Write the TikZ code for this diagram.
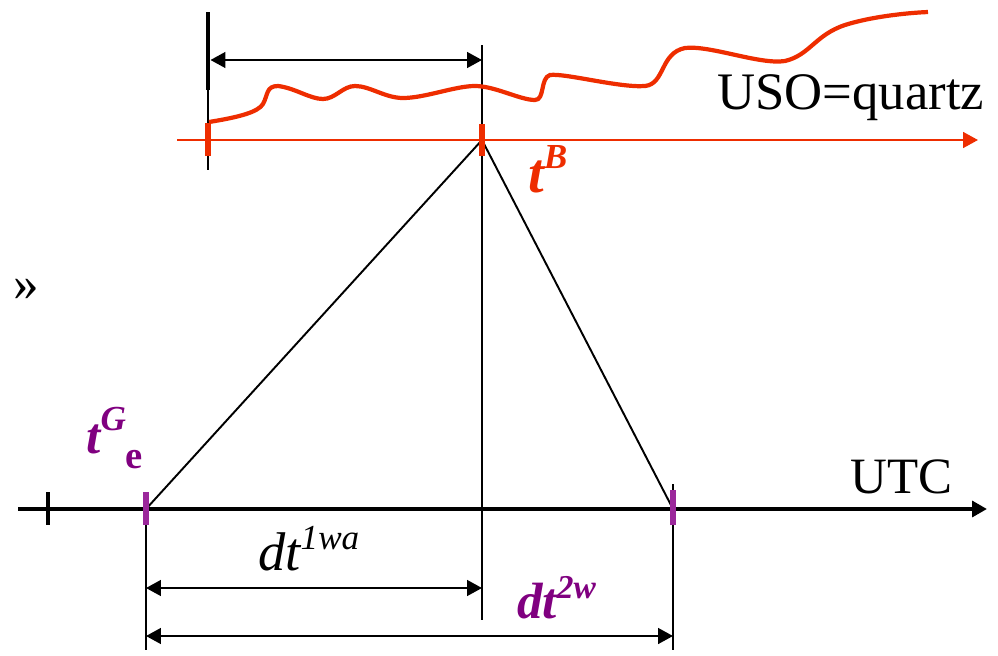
\documentclass[tikz,border=0pt]{standalone}
\usepackage{fontspec}
\setmainfont{Liberation Serif}
\usetikzlibrary{arrows.meta}
\definecolor{usored}{RGB}{238,45,0}
\definecolor{tickpurple}{RGB}{155,40,155}
\definecolor{labpurple}{RGB}{128,0,128}
\newcommand{\fs}[1]{\fontsize{#1}{#1}\selectfont}

\begin{document}
\begin{tikzpicture}[x=0.02cm,y=-0.02cm,>={Triangle[length=8.5pt,width=9pt]},
  thinline/.style={line width=1.1pt},
  tickmark/.style={line width=3.4pt},
  lab/.style={inner sep=0pt,anchor=base west}]

\useasboundingbox (0,0) rectangle (998,656);

\coordinate (utcs) at (18,509);
\coordinate (utce) at (987,509);
\coordinate (usos) at (177,140);
\coordinate (usoe) at (978,140);
\coordinate (o) at (48,509);
\coordinate (ge) at (146,509);
\coordinate (m) at (482,509);
\coordinate (r) at (673,509);
\coordinate (a) at (208,140);
\coordinate (b) at (482,140);

\draw[thinline] (b) ++(0,-95) -- (m) -- ++(0,111);
\draw[thinline] (ge) -- ++(0,141);
\draw[thinline] (r) ++(0,-25) -- ++(0,166);
\draw[thinline] (a) ++(0,-50) -- ++(0,80);
\draw[line width=2.8pt] (a) ++(0,-128) -- ++(0,78);

\draw[thinline] (ge) -- (b) -- (r);

\draw[usored,line width=1.2pt,->] (usos) -- (usoe);
\draw[line width=2.3pt,->] (utcs) -- (utce);

\draw[usored,line width=2.4pt] (209,122) .. controls (240,117) and (258,112) .. (263,104)
  .. controls (268,95) and (266,86) .. (278,86) .. controls (295,88) and (310,99) .. (323,99)
  .. controls (335,99) and (343,86) .. (355,86) .. controls (370,86) and (385,98) .. (403,98)
  .. controls (425,98) and (455,86) .. (475,86) .. controls (495,86) and (520,100) .. (535,100)
  .. controls (545,100) and (540,78) .. (550,75) .. controls (565,73) and (620,88) .. (645,86)
  .. controls (665,84) and (660,53) .. (685,48) .. controls (710,45) and (760,65) .. (785,61)
  .. controls (810,55) and (815,35) .. (845,25) .. controls (870,17) and (905,13) .. (928,12);

\draw[line width=2.3pt] (o) ++(0,-17) -- ++(0,33);
\draw[tickpurple,tickmark] (ge) ++(0,-17) -- ++(0,33);
\draw[tickpurple,tickmark] (r) ++(0,-19) -- ++(0,35);
\draw[usored,tickmark] (a) ++(0,-17) -- ++(0,33);
\draw[usored,tickmark] (b) ++(0,-16) -- ++(0,32);

\draw[thinline,<->] (210.5,60) -- (b |- 0,60);
\draw[thinline,<->] (ge |- 0,588) -- (m |- 0,588);
\draw[thinline,<->] (ge |- 0,636) -- (r |- 0,636);

\node[lab] (utc) at (850,493) {\fs{29}UTC};
\node[lab] (uso) at (717,109) {\fs{30}USO=quartz};
\node[lab] (sep) at (13,300) {\fs{29}»};
\node[lab] (dtone) at (258,570) {\fs{31}\itshape dt\raisebox{0.38em}{\fs{20}1wa}};
\node[lab,text=labpurple] (dttwo) at (517,618) {\fs{29}\bfseries\itshape dt\raisebox{0.38em}{\fs{19}2w}};
\node[lab,text=usored] (tb) at (528,192) {\fs{32}\bfseries\itshape t\raisebox{0.42em}{\fs{20}B}};
\node[lab,text=labpurple] (tg) at (86,453) {\fs{29}\bfseries\itshape t\raisebox{0.45em}{\fs{20}G}\raisebox{-0.3em}{\fs{22}\upshape e}};

\end{tikzpicture}
\end{document}
